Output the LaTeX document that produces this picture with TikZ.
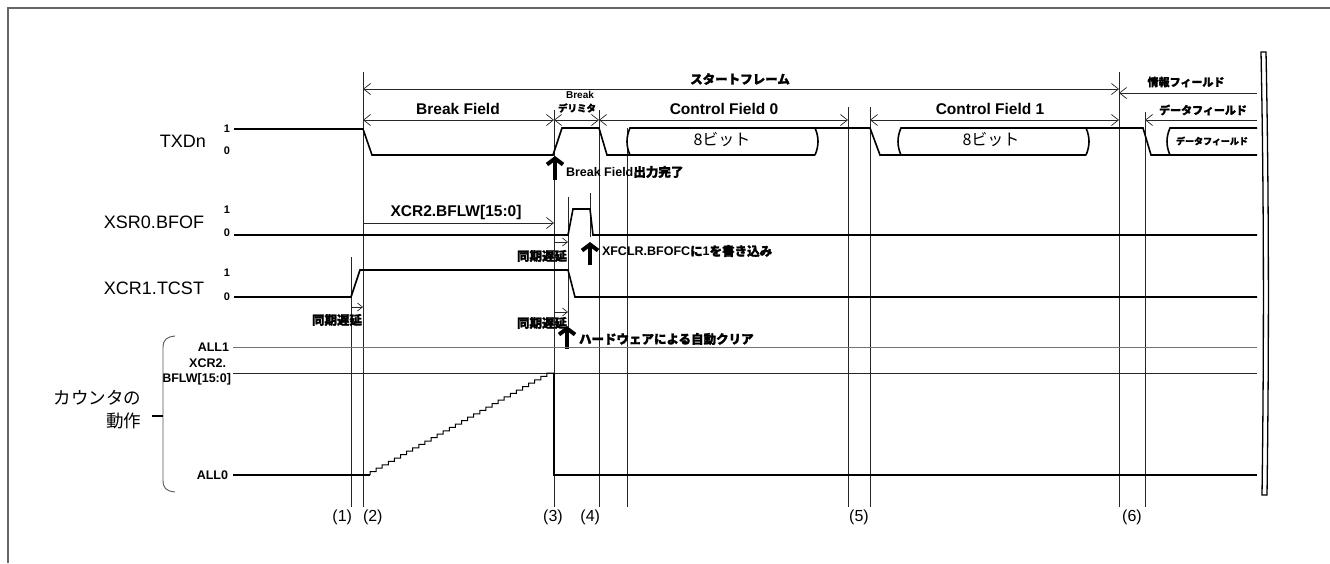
\documentclass[tikz,border=0pt]{standalone}
\usepackage{fontspec}
\setmainfont{Liberation Sans}
\newfontfamily\jp{Noto Sans CJK JP}
\newfontfamily\jpb{Noto Sans CJK JP}[FakeBold=1.6]
\usetikzlibrary{arrows.meta}
\newcommand\fsz[1]{\fontsize{#1}{#1}\selectfont}
\begin{document}
\begin{tikzpicture}[x=1pt,y=-1pt,
  every node/.style={inner sep=0pt, outer sep=0pt},
  >={Straight Barb[length=7pt,width=11pt]},
  wave/.style={line width=1.6pt, line join=miter},
  thin wave/.style={line width=1pt},
  gridline/.style={line width=0.7pt, black!85},
  dim/.style={line width=0.7pt, black!85},
  sync/.style={line width=0.7pt, black!85, arrows={-Straight Barb[length=5pt,width=8pt]}},
  bigup/.style={line width=4pt, arrows={-Straight Barb[length=6pt,width=16pt]}},
  sig/.style={anchor=east, font=\fsz{18}},
  lvl/.style={font=\bfseries\fsz{11}},
  fieldlab/.style={font=\bfseries\fsz{15.5}},
  jplab/.style={font=\bfseries\jpb\fsz{#1}},
  note/.style={anchor=west, font=\bfseries\fsz{12.5}},
  num/.style={font=\fsz{16}}
]
\useasboundingbox (0,0) rectangle (1330,563);
% frame
\draw[line width=1.2pt, black!60] (8,563) -- (8,8) -- (1330,8);

% vertical reference lines
\coordinate (v1t) at (351,257); \coordinate (v1b) at (351,507);
\coordinate (v2t) at (363,72);  \coordinate (v2b) at (363,507);
\coordinate (v3t) at (554,110); \coordinate (v3b) at (554,507);
\coordinate (vat) at (568,197); \coordinate (vab) at (568,327);
\coordinate (vbt) at (590,193); \coordinate (vbb) at (590,237);
\coordinate (v4t) at (599,110); \coordinate (v4b) at (599,507);
\coordinate (vct) at (627,128); \coordinate (vcb) at (627,507);
\coordinate (v5t) at (848,107); \coordinate (v5b) at (848,507);
\coordinate (v6t) at (870,107); \coordinate (v6b) at (870,507);
\coordinate (v7t) at (1119,72); \coordinate (v7b) at (1119,507);
\coordinate (v8t) at (1145,112); \coordinate (v8b) at (1145,507);
\foreach \a in {1,2,3,a,b,4,c,5,6,7,8}{\draw[gridline] (v\a t) -- (v\a b);}

% dimension arrows
\coordinate (sfL) at (363,89); \coordinate (sfR) at (1119,89);
\draw[dim,<->] (sfL) -- (sfR);
\coordinate (ifL) at (1119,93); \coordinate (ifR) at (1257,93);
\draw[dim,<-] (ifL) -- (ifR);
\coordinate (bfL) at (363,120); \coordinate (bfR) at (554,120);
\draw[dim,<->] (bfL) -- (bfR);
\coordinate (bdR) at (599,120);
\draw[dim,<->] (bfR) -- (bdR);
\coordinate (c0R) at (848,120);
\draw[dim,<->] (bdR) -- (c0R);
\coordinate (c1L) at (870,120); \coordinate (c1R) at (1119,120);
\draw[dim,<->] (c1L) -- (c1R);
\coordinate (dfL) at (1145,120); \coordinate (dfR) at (1257,120);
\draw[dim,<-] (dfL) -- (dfR);
\coordinate (bwL) at (363,223); \coordinate (bwR) at (554,223);
\draw[dim,->] (bwL) -- (bwR);
\coordinate (s1L) at (351,307); \coordinate (s1R) at (363,307);
\draw[sync] (s1L) -- (s1R);
\coordinate (s2L) at (554,242); \coordinate (s2R) at (568,242);
\draw[sync] (s2L) -- (s2R);
\coordinate (s3L) at (554,312); \coordinate (s3R) at (568,312);
\draw[sync] (s3L) -- (s3R);

% field labels
\node[jplab=12.5] (sf) at (740,79) {スタートフレーム};
\node[jplab=11] (inf) at (1186,82) {情報フィールド};
\node[fieldlab] (bf) at (458,109) {Break Field};
\node[font=\bfseries\fsz{10}] (bd1) at (580,95) {Break};
\node[jplab=9.5] (bd2) at (577,108) {デリミタ};
\node[fieldlab] (cf0) at (724,109) {Control Field 0};
\node[fieldlab] (cf1) at (990,109) {Control Field 1};
\node[jplab=11] (dfl) at (1203,110) {データフィールド};
\node[fieldlab] (bflw) at (456,212) {XCR2.BFLW[15:0]};

% signal names
\node[sig] (txd) at (206,141) {TXDn};
\node[sig] (bfof) at (204,222) {XSR0.BFOF};
\node[sig] (tcst) at (204,288) {XCR1.TCST};
\node[lvl] (t1) at (227,129) {1};
\node[lvl] (t0) at (227,151) {0};
\node[lvl] (b1) at (227,210) {1};
\node[lvl] (b0) at (227,233) {0};
\node[lvl] (c1) at (227,273) {1};
\node[lvl] (c0) at (227,297) {0};

% TXDn waveform
\draw[wave] (234,129) -- (363,129) -- (372,155) -- (553,155) -- (562,128) -- (599,128) -- (607,155) -- (815,155);
\draw[wave] (815,155) .. controls (819,146) and (819,137) .. (815,128);
\draw[wave] (630,155) .. controls (626,146) and (626,137) .. (630,128) -- (870,128) -- (880,155) -- (1086,155);
\draw[wave] (1086,155) .. controls (1090,146) and (1090,137) .. (1086,128);
\draw[wave] (901,155) .. controls (897,146) and (897,137) .. (901,128) -- (1143,128) -- (1151,155) -- (1257,155);
\draw[wave] (1170,155) .. controls (1166,146) and (1166,137) .. (1170,128) -- (1257,128);
\node[font=\jp\fsz{16}] (b8a) at (722,140) {8ビット};
\node[font=\jp\fsz{16}] (b8b) at (991,140) {8ビット};
\node[jplab=9] (dfin) at (1212,141) {データフィールド};

% XSR0.BFOF
\draw[wave] (234,235) -- (568,235) -- (573,209) -- (590,209) -- (593,235) -- (1257,235);
% XCR1.TCST
\draw[wave] (234,297) -- (351,297) -- (360,270) -- (568,270) -- (575,297) -- (1257,297);

% sync delay labels
\node[jplab=12.5, anchor=east] (sd1) at (362,320) {同期遅延};
\node[jplab=12.5, anchor=east] (sd2) at (567,256) {同期遅延};
\node[jplab=12.5, anchor=east] (sd3) at (567,323) {同期遅延};

% bold up arrows + notes
\coordinate (u1b) at (555,180); \coordinate (u1t) at (555,156);
\draw[bigup] (u1b) -- (u1t);
\node[note] (n1) at (566,172) {Break Field{\jpb 出力完了}};
\coordinate (u2b) at (590,265); \coordinate (u2t) at (590,242);
\draw[bigup] (u2b) -- (u2t);
\node[note] (n2) at (602,251) {XFCLR.BFOFC{\jpb に}1{\jpb を書き込み}};
\coordinate (u3b) at (567,349); \coordinate (u3t) at (567,326);
\draw[bigup] (u3b) -- (u3t);
\node[note] (n3) at (579,339) {\jpb ハードウェアによる自動クリア};

% counter section
\draw[line width=0.8pt, black!55] (233,347) -- (1257,347);
\draw[line width=0.8pt, black!85] (233,373) -- (1257,373);
\node[anchor=east, font=\bfseries\fsz{12.5}] (all1) at (229,347) {ALL1};
\node[anchor=east, font=\bfseries\fsz{12.5}] (xcr2) at (226,363) {XCR2.};
\node[anchor=east, font=\bfseries\fsz{12.5}] (bflwl) at (231,379) {BFLW[15:0]};
\node[anchor=east, font=\bfseries\fsz{12.5}] (all0) at (228,475) {ALL0};
\draw[wave] (233,475) -- (370,475);
\draw[thin wave] (370,475) \foreach \i in {1,...,30}{ -- ++(0,-3.4) -- ++(6.1,0) } -- (554,373);
\draw[wave] (554,373) -- (554,475) -- (1257,475);

% brace and counter label
\draw[line width=0.9pt, black!65] (175,336) .. controls (166,337) and (163,340) .. (163,348) -- (163,480) .. controls (163,488) and (166,491) .. (175,492);
\draw[line width=1.2pt] (152,416) -- (163,416);
\node[anchor=east, font=\jp\fsz{17.5}] (cnt1) at (141,398) {カウンタの};
\node[anchor=east, font=\jp\fsz{17.5}] (cnt2) at (141,421) {動作};

% point numbers
\node[num, anchor=east] (p1) at (352,517) {(1)};
\node[num, anchor=west] (p2) at (363,517) {(2)};
\node[num] (p3) at (553,517) {(3)};
\node[num, anchor=east] (p4) at (600,517) {(4)};
\node[num] (p5) at (859,517) {(5)};
\node[num] (p6) at (1132,517) {(6)};

% break mark on the right
\draw[line width=1.3pt, fill=white] (1261,52) .. controls (1264,200) and (1264,350) .. (1262,495) -- (1267,495) .. controls (1269,350) and (1269,200) .. (1266,52) -- cycle;
\end{tikzpicture}
\end{document}
